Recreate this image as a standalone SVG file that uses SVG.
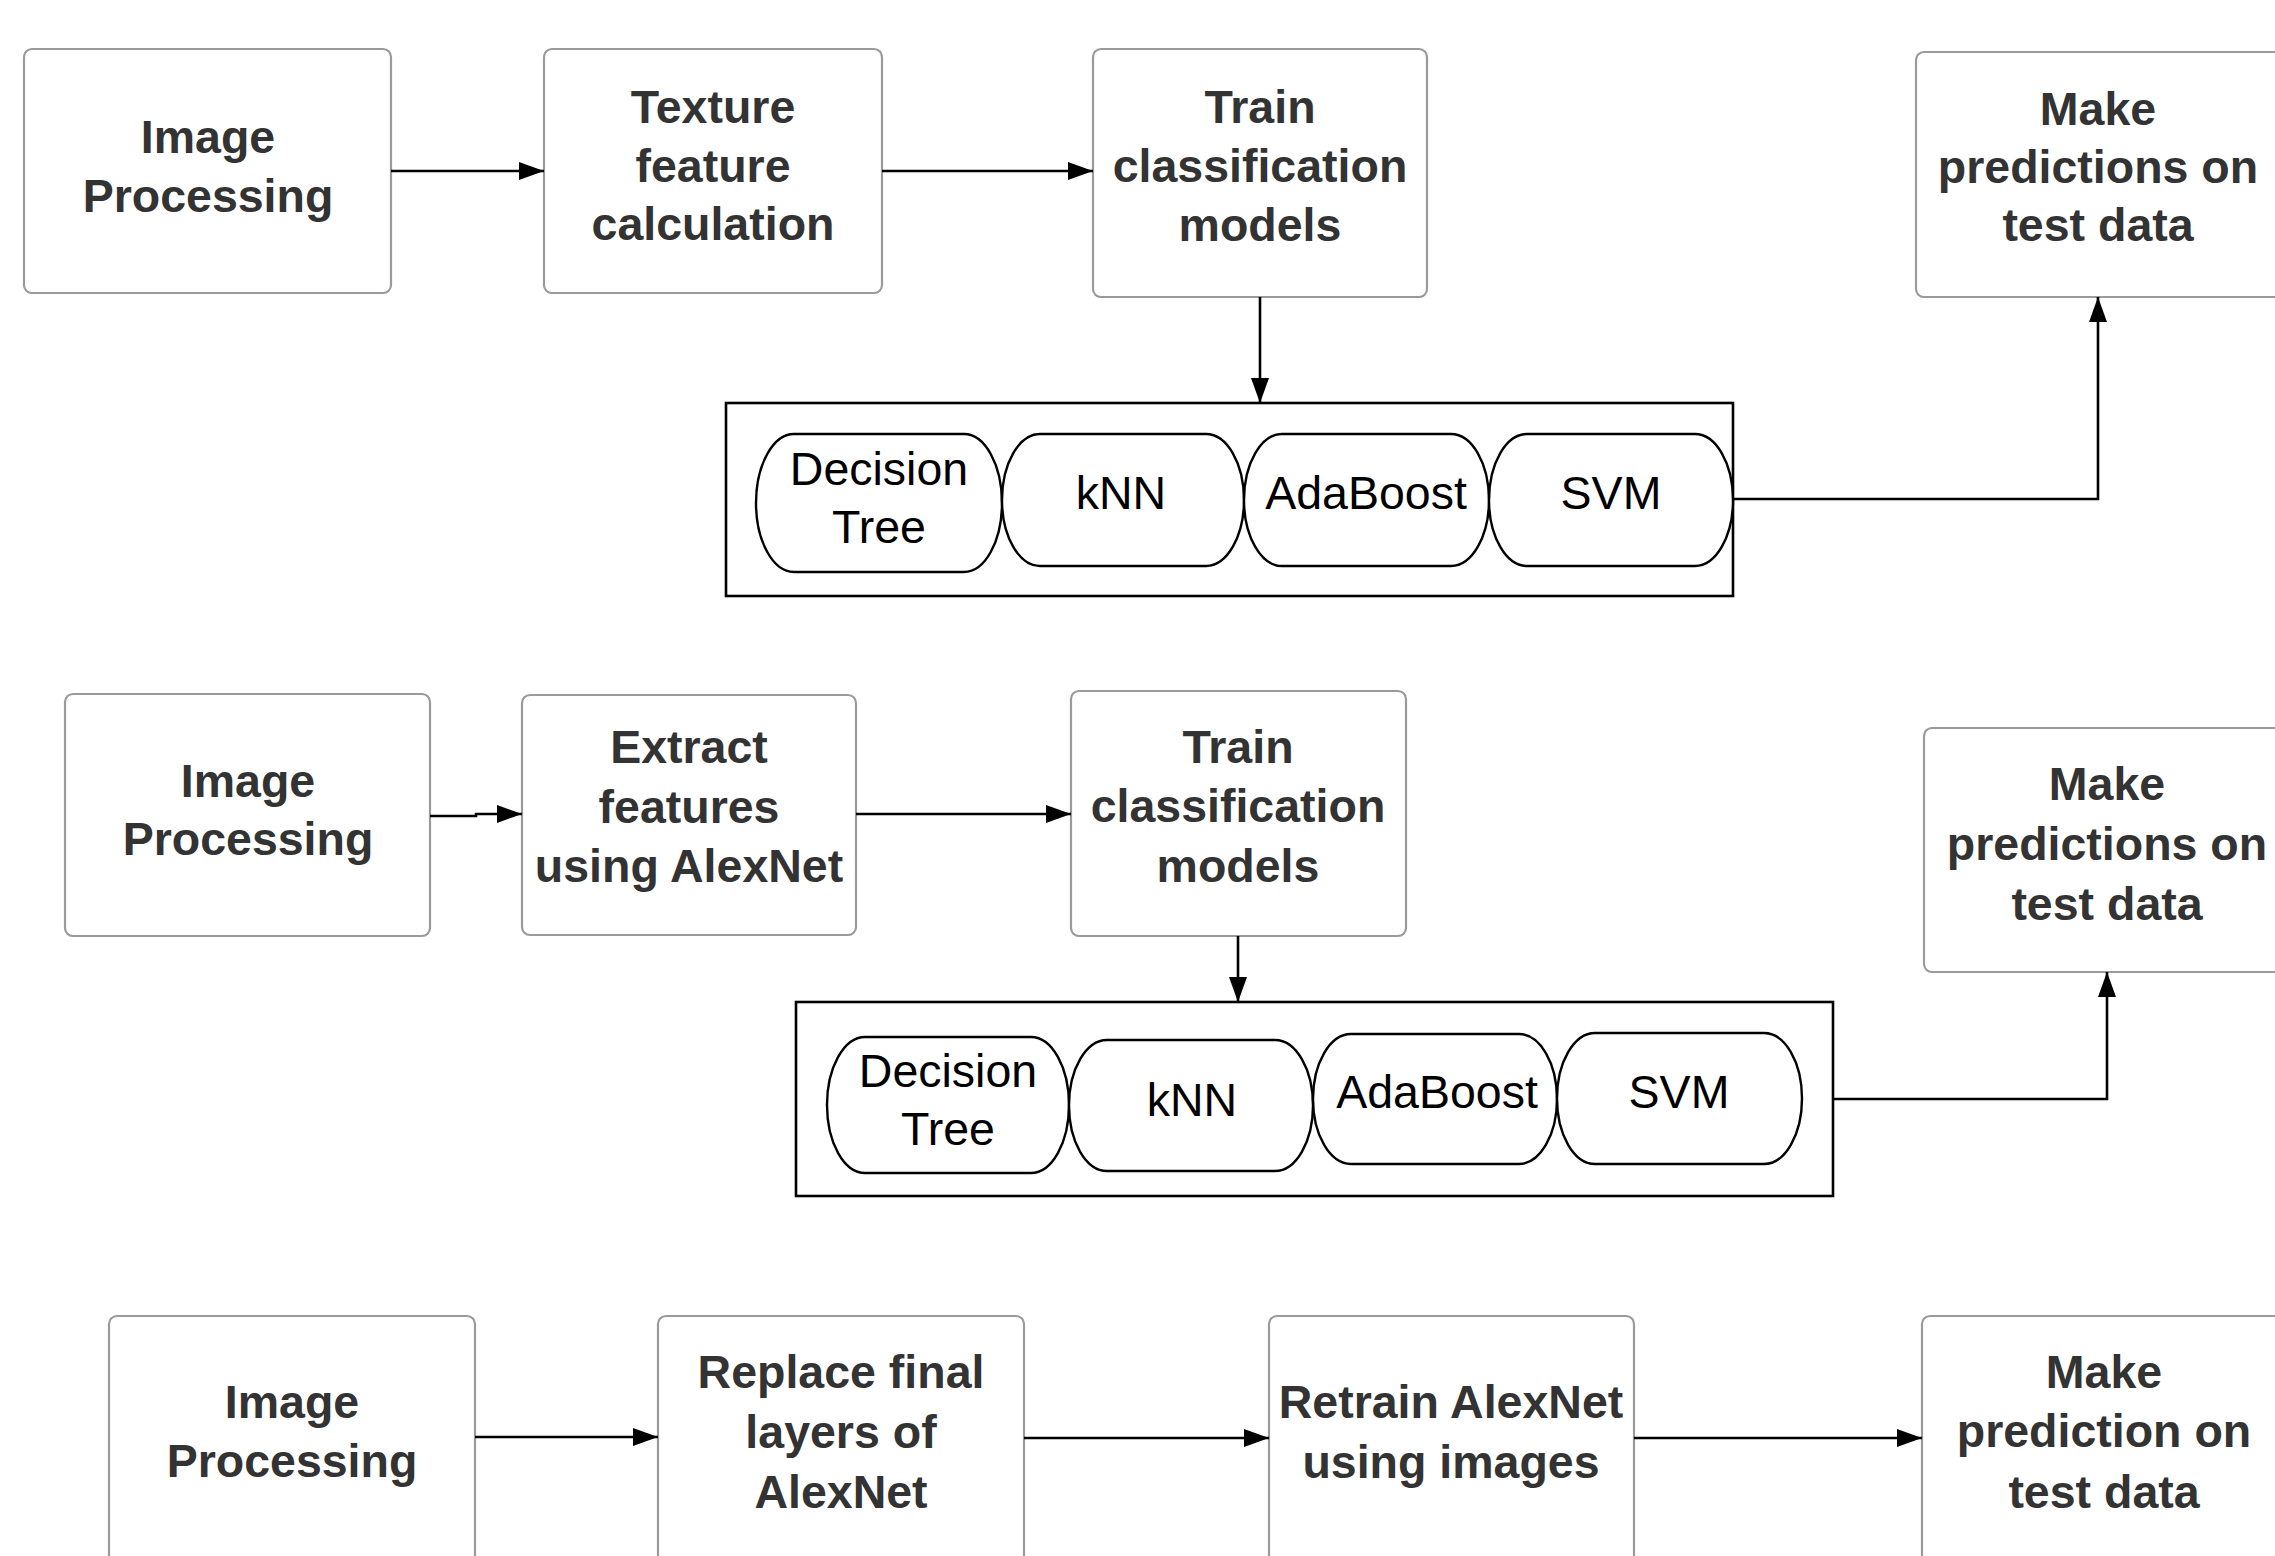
<svg xmlns="http://www.w3.org/2000/svg" width="2275" height="1556" viewBox="0 0 2275 1556">
<defs>
<marker id="ah" markerUnits="userSpaceOnUse" markerWidth="26" markerHeight="18" refX="25" refY="9" orient="auto">
<path d="M0,0 L25,9 L0,18 Z" fill="#000"/>
</marker>
<style>
.box{fill:#fff;stroke:#9a9a9a;stroke-width:2.2}
.t{font-family:"Liberation Sans",Arial,sans-serif;font-weight:bold;font-size:46.5px;fill:#333;text-anchor:middle}
.p{font-family:"Liberation Sans",Arial,sans-serif;font-size:46.5px;fill:#000;text-anchor:middle}
.cont{fill:#fff;stroke:#000;stroke-width:2.6}
.pill{fill:#fff;stroke:#000;stroke-width:2.4}
.c{fill:none;stroke:#000;stroke-width:2.6}
</style>
</defs>
<rect width="2275" height="1556" fill="#fff"/>

<!-- Row 1 -->
<g id="r1-image-processing"><rect class="box" x="24" y="49" width="367" height="244" rx="8"/>
<text class="t" x="208" y="153">Image</text><text class="t" x="208" y="212">Processing</text></g>
<g id="r1-texture"><rect class="box" x="544" y="49" width="338" height="244" rx="8"/>
<text class="t" x="713" y="123">Texture</text><text class="t" x="713" y="182">feature</text><text class="t" x="713" y="240">calculation</text></g>
<g id="r1-train"><rect class="box" x="1093" y="49" width="334" height="248" rx="8"/>
<text class="t" x="1260" y="123">Train</text><text class="t" x="1260" y="182">classification</text><text class="t" x="1260" y="241">models</text></g>
<g id="r1-predict"><rect class="box" x="1916" y="52" width="370" height="245" rx="8"/>
<text class="t" x="2098" y="125">Make</text><text class="t" x="2098" y="183">predictions on</text><text class="t" x="2098" y="241">test data</text></g>
<g id="r1-models"><rect class="cont" x="726" y="403" width="1007" height="193"/>
<rect class="pill" x="756" y="434" width="246" height="138" rx="38" ry="69"/>
<rect class="pill" x="1002" y="434" width="242" height="132" rx="38" ry="66"/>
<rect class="pill" x="1244" y="434" width="245" height="132" rx="38" ry="66"/>
<rect class="pill" x="1489" y="434" width="244" height="132" rx="38" ry="66"/>
<text class="p" x="879" y="485">Decision</text><text class="p" x="879" y="543">Tree</text>
<text class="p" x="1121" y="509">kNN</text>
<text class="p" x="1366" y="509">AdaBoost</text>
<text class="p" x="1611" y="509">SVM</text></g>

<!-- Row 2 -->
<g id="r2-image-processing"><rect class="box" x="65" y="694" width="365" height="242" rx="8"/>
<text class="t" x="248" y="797">Image</text><text class="t" x="248" y="855">Processing</text></g>
<g id="r2-extract"><rect class="box" x="522" y="695" width="334" height="240" rx="8"/>
<text class="t" x="689" y="763">Extract</text><text class="t" x="689" y="823">features</text><text class="t" x="689" y="882">using AlexNet</text></g>
<g id="r2-train"><rect class="box" x="1071" y="691" width="335" height="245" rx="8"/>
<text class="t" x="1238" y="763">Train</text><text class="t" x="1238" y="822">classification</text><text class="t" x="1238" y="882">models</text></g>
<g id="r2-predict"><rect class="box" x="1924" y="728" width="366" height="244" rx="8"/>
<text class="t" x="2107" y="800">Make</text><text class="t" x="2107" y="860">predictions on</text><text class="t" x="2107" y="920">test data</text></g>
<g id="r2-models"><rect class="cont" x="796" y="1002" width="1037" height="194"/>
<rect class="pill" x="827" y="1037" width="242" height="136" rx="38" ry="68"/>
<rect class="pill" x="1069" y="1040" width="244" height="131" rx="38" ry="65.5"/>
<rect class="pill" x="1313" y="1034" width="244" height="130" rx="38" ry="65"/>
<rect class="pill" x="1557" y="1033" width="245" height="131" rx="38" ry="65.5"/>
<text class="p" x="948" y="1087">Decision</text><text class="p" x="948" y="1145">Tree</text>
<text class="p" x="1192" y="1116">kNN</text>
<text class="p" x="1437" y="1108">AdaBoost</text>
<text class="p" x="1679" y="1108">SVM</text></g>

<!-- Row 3 -->
<g id="r3-image-processing"><rect class="box" x="109" y="1316" width="366" height="250" rx="8"/>
<text class="t" x="292" y="1418">Image</text><text class="t" x="292" y="1477">Processing</text></g>
<g id="r3-replace"><rect class="box" x="658" y="1316" width="366" height="250" rx="8"/>
<text class="t" x="841" y="1388">Replace final</text><text class="t" x="841" y="1448">layers of</text><text class="t" x="841" y="1508">AlexNet</text></g>
<g id="r3-retrain"><rect class="box" x="1269" y="1316" width="365" height="250" rx="8"/>
<text class="t" x="1451" y="1418">Retrain AlexNet</text><text class="t" x="1451" y="1478">using images</text></g>
<g id="r3-predict"><rect class="box" x="1922" y="1316" width="366" height="250" rx="8"/>
<text class="t" x="2104" y="1388">Make</text><text class="t" x="2104" y="1447">prediction on</text><text class="t" x="2104" y="1508">test data</text></g>

<g id="connectors">
<path class="c" d="M391,171 H544" marker-end="url(#ah)"/>
<path class="c" d="M882,171 H1093" marker-end="url(#ah)"/>
<path class="c" d="M1260,297 V403" marker-end="url(#ah)"/>
<path class="c" d="M1733,499 H2098 V297" marker-end="url(#ah)"/>
<path class="c" d="M430,816 H476 V814 H522" marker-end="url(#ah)"/>
<path class="c" d="M856,814 H1071" marker-end="url(#ah)"/>
<path class="c" d="M1238,936 V1002" marker-end="url(#ah)"/>
<path class="c" d="M1833,1099 H2107 V972" marker-end="url(#ah)"/>
<path class="c" d="M475,1437 H658" marker-end="url(#ah)"/>
<path class="c" d="M1024,1438 H1269" marker-end="url(#ah)"/>
<path class="c" d="M1634,1438 H1922" marker-end="url(#ah)"/>
</g>
</svg>
